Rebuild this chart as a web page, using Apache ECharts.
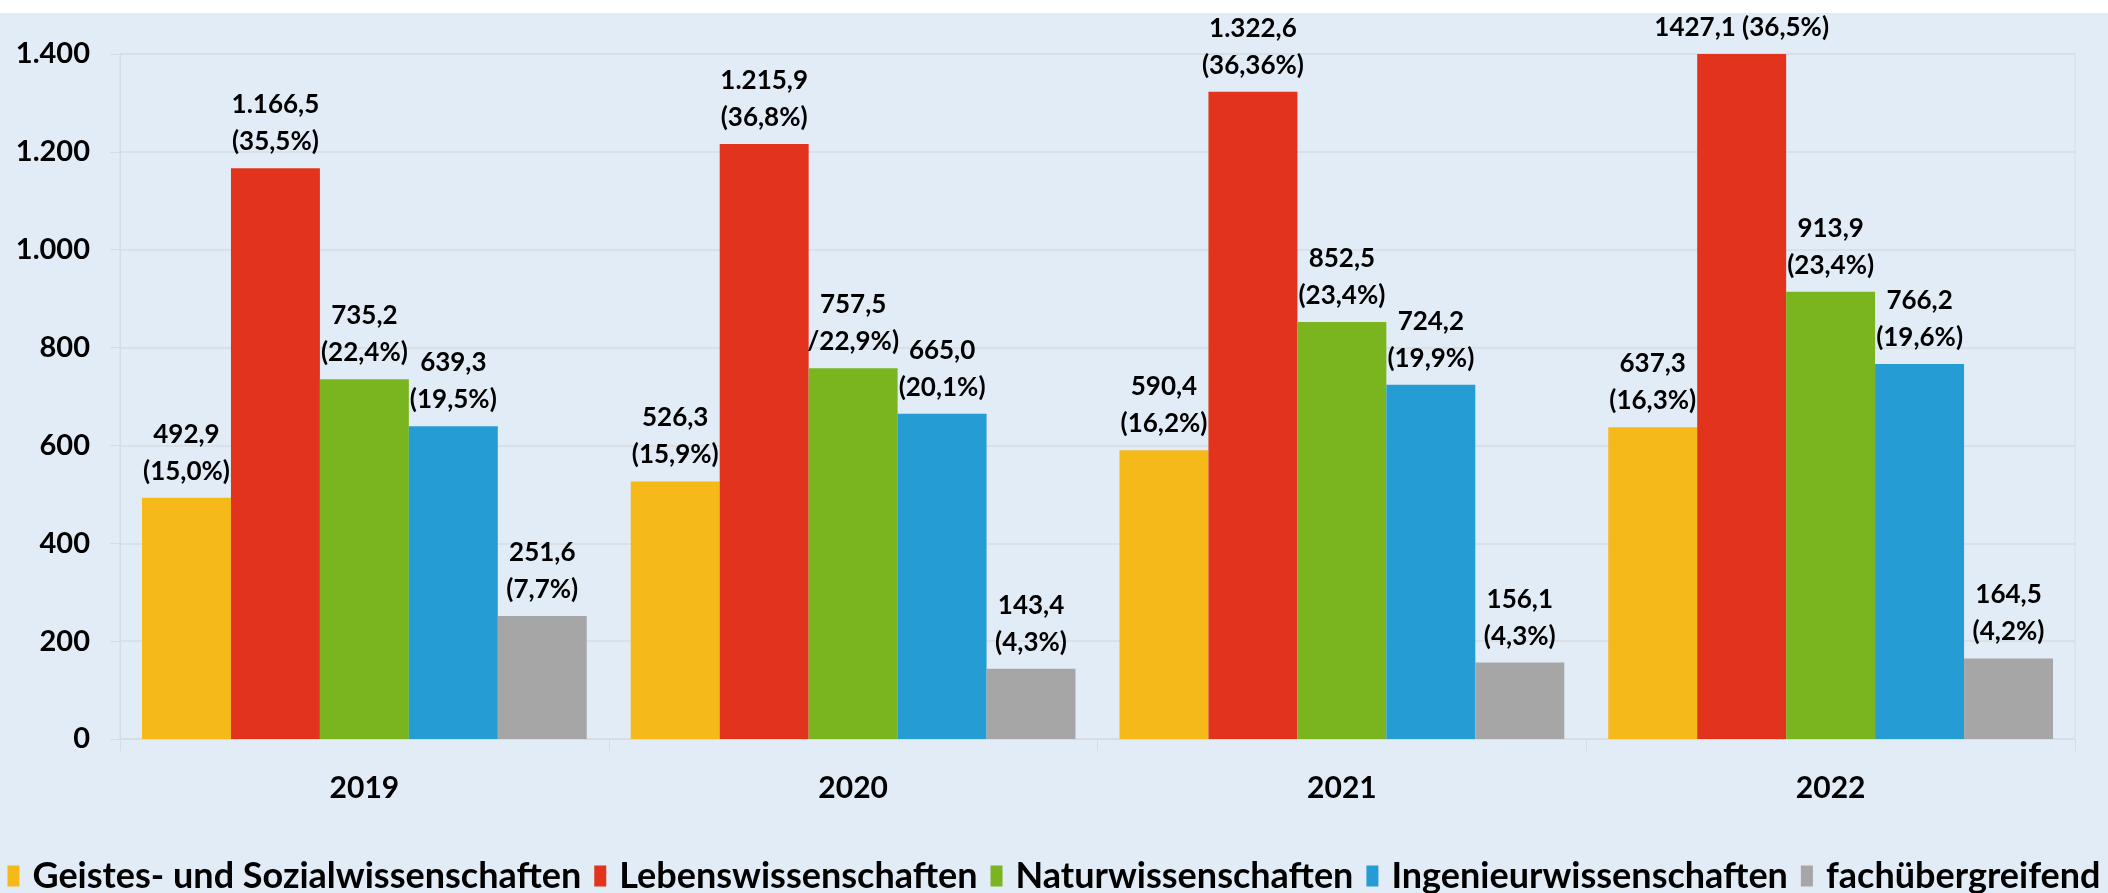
<!DOCTYPE html>
<html>
<head>
<meta charset="utf-8">
<script src="https://cdn.jsdelivr.net/npm/echarts@6/dist/echarts.min.js"></script>
<style>
html,body{margin:0;padding:0;background:#fff;}
#chart{width:2108px;height:893px;}
</style>
</head>
<body>
<div id="chart"></div>
<script>
const categories = ['2019', '2020', '2021', '2022'];
const seriesNames = ['Geistes- und Sozialwissenschaften', 'Lebenswissenschaften', 'Naturwissenschaften', 'Ingenieurwissenschaften', 'fachübergreifend'];
const geistes = [492.9, 526.3, 590.4, 637.3];
const leben = [1166.5, 1215.9, 1322.6, 1427.1];
const natur = [735.2, 757.5, 852.5, 913.9];
const ingenieur = [639.3, 665.0, 724.2, 766.2];
const fach = [251.6, 143.4, 156.1, 164.5];
const geistesLabels = ['492,9\n(15,0%)', '526,3\n(15,9%)', '590,4\n(16,2%)', '637,3\n(16,3%)'];
const lebenLabels = ['1.166,5\n(35,5%)', '1.215,9\n(36,8%)', '1.322,6\n(36,36%)', '1427,1 (36,5%)'];
const naturLabels = ['735,2\n(22,4%)', '757,5\n/22,9%)', '852,5\n(23,4%)', '913,9\n(23,4%)'];
const ingenieurLabels = ['639,3\n(19,5%)', '665,0\n(20,1%)', '724,2\n(19,9%)', '766,2\n(19,6%)'];
const fachLabels = ['251,6\n(7,7%)', '143,4\n(4,3%)', '156,1\n(4,3%)', '164,5\n(4,2%)'];
const yTickLabels = ['0', '200', '400', '600', '800', '1.000', '1.200', '1.400'];
const colors = ['#F6B91A', '#E2341D', '#7AB51F', '#259CD4', '#A6A6A6'];

const FONT = 'Lato, "Open Sans", "DejaVu Sans", sans-serif';
const values = [geistes, leben, natur, ingenieur, fach];
const labels = [geistesLabels, lebenLabels, naturLabels, ingenieurLabels, fachLabels];

const chart = echarts.init(document.getElementById('chart'), null, {renderer: 'canvas'});
chart.setOption({
  backgroundColor: '#E2ECF6',
  animation: false,
  color: colors,
  graphic: [{type: 'rect', shape: {x: 0, y: 0, width: 2108, height: 13}, style: {fill: '#ffffff'}, silent: true}],
  grid: {left: 120, right: 33, top: 54, bottom: 154, show: true, borderColor: '#D6DCE3', borderWidth: 1},
  legend: {
    left: 'center', top: 852, itemWidth: 12, itemHeight: 21, itemGap: 13, icon: 'rect',
    textStyle: {fontFamily: FONT, fontWeight: 'bold', fontSize: 36, lineHeight: 38, color: '#000', padding: [0, 0, 0, 8]},
    data: seriesNames
  },
  xAxis: {
    type: 'category', data: categories,
    axisLine: {lineStyle: {color: '#D6DCE3', width: 1}},
    axisTick: {show: true, length: 12, lineStyle: {color: '#D6DCE3'}},
    axisLabel: {margin: 34, fontFamily: FONT, fontWeight: 'bold', fontSize: 30, color: '#000'}
  },
  yAxis: {
    type: 'value', min: 0, max: 1400, interval: 200,
    axisLine: {show: true, lineStyle: {color: '#D6DCE3'}},
    axisTick: {show: true, length: 10, lineStyle: {color: '#D6DCE3'}},
    splitLine: {lineStyle: {color: '#D6DCE3', width: 1.5}},
    axisLabel: {margin: 30, fontFamily: FONT, fontWeight: 'bold', fontSize: 29, color: '#000',
      formatter: (v) => yTickLabels[Math.round(v / 200)]}
  },
  series: seriesNames.map((name, i) => ({
    name: name, type: 'bar', data: values[i], barGap: '0%', barCategoryGap: '9%',
    clip: true,
    label: {
      show: true, position: 'top', distance: 8,
      fontFamily: FONT, fontWeight: 'bold', fontSize: 26, lineHeight: 37, color: '#000',
      formatter: (p) => labels[i][p.dataIndex]
    }
  }))
});
</script>
</body>
</html>
